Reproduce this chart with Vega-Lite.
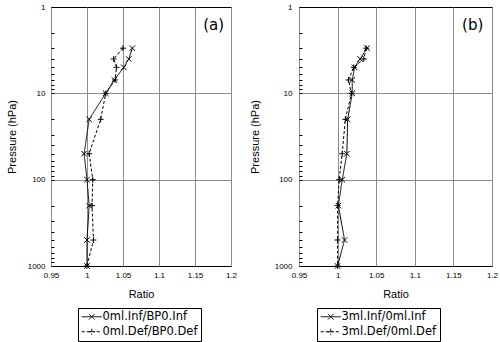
{
  "$schema": "https://vega.github.io/schema/vega-lite/v6.json",
  "padding": {"left": 5, "top": 2, "right": 0, "bottom": 0},
  "background": "white",
  "spacing": 10,
  "config": {
    "font": "Liberation Sans",
    "view": {"stroke": "black", "strokeWidth": 1},
    "axis": {"labelFontSize": 8, "titleFontSize": 11, "titleFontWeight": "normal", "labelColor": "black", "titleColor": "black", "gridColor": "#8c8c8c", "gridWidth": 1, "domain": false, "ticks": false, "labelOverlap": false},
    "axisX": {"labelOverlap": false, "labelSeparation": 0}
  },
  "datasets": {
    "a": [
      {"series": "0ml.Inf/BP0.Inf", "p": 3, "ratio": 1.063},
      {"series": "0ml.Inf/BP0.Inf", "p": 4, "ratio": 1.058},
      {"series": "0ml.Inf/BP0.Inf", "p": 5, "ratio": 1.051},
      {"series": "0ml.Inf/BP0.Inf", "p": 7, "ratio": 1.038},
      {"series": "0ml.Inf/BP0.Inf", "p": 10, "ratio": 1.026},
      {"series": "0ml.Inf/BP0.Inf", "p": 20, "ratio": 1.003},
      {"series": "0ml.Inf/BP0.Inf", "p": 50, "ratio": 0.996},
      {"series": "0ml.Inf/BP0.Inf", "p": 100, "ratio": 1.0},
      {"series": "0ml.Inf/BP0.Inf", "p": 200, "ratio": 1.003},
      {"series": "0ml.Inf/BP0.Inf", "p": 500, "ratio": 1.0},
      {"series": "0ml.Inf/BP0.Inf", "p": 1000, "ratio": 1.0},
      {"series": "0ml.Def/BP0.Def", "p": 3, "ratio": 1.05},
      {"series": "0ml.Def/BP0.Def", "p": 4, "ratio": 1.037},
      {"series": "0ml.Def/BP0.Def", "p": 5, "ratio": 1.041},
      {"series": "0ml.Def/BP0.Def", "p": 7, "ratio": 1.039},
      {"series": "0ml.Def/BP0.Def", "p": 10, "ratio": 1.026},
      {"series": "0ml.Def/BP0.Def", "p": 20, "ratio": 1.019},
      {"series": "0ml.Def/BP0.Def", "p": 50, "ratio": 1.003},
      {"series": "0ml.Def/BP0.Def", "p": 100, "ratio": 1.008},
      {"series": "0ml.Def/BP0.Def", "p": 200, "ratio": 1.007},
      {"series": "0ml.Def/BP0.Def", "p": 500, "ratio": 1.009},
      {"series": "0ml.Def/BP0.Def", "p": 1000, "ratio": 1.0}
    ],
    "b": [
      {"series": "3ml.Inf/0ml.Inf", "p": 3, "ratio": 1.038},
      {"series": "3ml.Inf/0ml.Inf", "p": 4, "ratio": 1.029},
      {"series": "3ml.Inf/0ml.Inf", "p": 5, "ratio": 1.022},
      {"series": "3ml.Inf/0ml.Inf", "p": 7, "ratio": 1.019},
      {"series": "3ml.Inf/0ml.Inf", "p": 10, "ratio": 1.019},
      {"series": "3ml.Inf/0ml.Inf", "p": 20, "ratio": 1.013},
      {"series": "3ml.Inf/0ml.Inf", "p": 50, "ratio": 1.012},
      {"series": "3ml.Inf/0ml.Inf", "p": 100, "ratio": 1.006},
      {"series": "3ml.Inf/0ml.Inf", "p": 200, "ratio": 1.001},
      {"series": "3ml.Inf/0ml.Inf", "p": 500, "ratio": 1.009},
      {"series": "3ml.Inf/0ml.Inf", "p": 1000, "ratio": 1.0},
      {"series": "3ml.Def/0ml.Def", "p": 3, "ratio": 1.037},
      {"series": "3ml.Def/0ml.Def", "p": 4, "ratio": 1.034},
      {"series": "3ml.Def/0ml.Def", "p": 5, "ratio": 1.021},
      {"series": "3ml.Def/0ml.Def", "p": 7, "ratio": 1.014},
      {"series": "3ml.Def/0ml.Def", "p": 10, "ratio": 1.018},
      {"series": "3ml.Def/0ml.Def", "p": 20, "ratio": 1.01},
      {"series": "3ml.Def/0ml.Def", "p": 50, "ratio": 1.006},
      {"series": "3ml.Def/0ml.Def", "p": 100, "ratio": 1.002},
      {"series": "3ml.Def/0ml.Def", "p": 200, "ratio": 1.0},
      {"series": "3ml.Def/0ml.Def", "p": 500, "ratio": 1.0},
      {"series": "3ml.Def/0ml.Def", "p": 1000, "ratio": 1.0}
    ],
    "la": [{"t": "(a)", "x": 1.176, "p": 1.62}],
    "lb": [{"t": "(b)", "x": 1.175, "p": 1.62}]
  },
  "resolve": {"scale": {"x": "independent", "y": "independent", "strokeDash": "independent"}, "legend": {"strokeDash": "independent"}},
  "hconcat": [
    {
      "width": 180,
      "height": 259,
      "encoding": {
        "x": {"field": "ratio", "type": "quantitative", "scale": {"domain": [0.95, 1.2], "nice": false, "zero": false},
              "axis": {"values": [0.95, 1, 1.05, 1.1, 1.15, 1.2], "labelExpr": "format(datum.value, '~g')", "title": "Ratio", "grid": true, "labelPadding": 5, "titlePadding": 9, "labelFlush": false, "labelOverlap": false}},
        "y": {"field": "p", "type": "quantitative", "scale": {"type": "log", "domain": [1, 1000], "reverse": true, "nice": false},
              "axis": {"values": [1,2,3,4,5,6,7,8,9,10,20,30,40,50,60,70,80,90,100,200,300,400,500,600,700,800,900,1000],
                       "labelExpr": "(datum.value == 1 || datum.value == 10 || datum.value == 100 || datum.value == 1000) ? format(datum.value, 'd') : ''",
                       "labelOverlap": false, "labelFlush": false, "title": "Pressure (hPa)", "titlePadding": 10, "labelPadding": 9,
                       "ticks": true, "tickSize": -3, "tickColor": "black",
                       "grid": true, "gridOpacity": {"condition": {"test": "datum.value == 10 || datum.value == 100", "value": 1}, "value": 0}}}
      },
      "layer": [
        {
          "data": {"name": "a"},
          "mark": {"type": "line", "color": "black", "strokeWidth": 1},
          "encoding": {
            "strokeDash": {"field": "series", "type": "nominal", "scale": {"domain": ["0ml.Inf/BP0.Inf", "0ml.Def/BP0.Def"], "range": [[1, 0], [3, 2]]},
                           "legend": {"orient": "none", "legendX": 27, "legendY": 301, "title": null, "direction": "vertical", "strokeColor": "black", "padding": 3,
                                      "symbolType": "M-2,0L2,0", "symbolSize": 100, "symbolOffset": 5, "symbolStrokeWidth": 1, "symbolStrokeColor": "black", "symbolFillColor": "transparent",
                                      "labelFontSize": 11.5, "labelFont": "DejaVu Sans", "labelColor": "black", "labelOffset": 5, "rowPadding": 2,
                                      "encode": {"symbols": {"update": {"shape": {"signal": "indexof(datum.value, 'Inf') >= 0 ? 'M-2,0L2,0M-0.56,-0.56L0.56,0.56M-0.56,0.56L0.56,-0.56' : 'M-2,0L2,0M-0.6,0L0.6,0M0,-0.6L0,0.6'"}}}}}},
            "order": {"field": "p", "type": "quantitative"}
          }
        },
        {
          "data": {"name": "a"},
          "transform": [{"filter": "datum.series == '0ml.Inf/BP0.Inf'"}],
          "mark": {"type": "point", "filled": false, "color": "black", "size": 30, "strokeWidth": 1, "opacity": 1, "shape": "M-1,-1L1,1M-1,1L1,-1"}
        },
        {
          "data": {"name": "a"},
          "transform": [{"filter": "datum.series == '0ml.Def/BP0.Def'"}],
          "mark": {"type": "point", "filled": false, "color": "black", "size": 34, "strokeWidth": 1, "opacity": 1, "shape": "M-1,0L1,0M0,-1L0,1"}
        },
        {
          "data": {"name": "la"},
          "mark": {"type": "text", "fontSize": 15, "font": "DejaVu Sans", "color": "black"},
          "encoding": {
            "x": {"field": "x", "type": "quantitative"},
            "text": {"field": "t"}
          }
        }
      ]
    },
    {
      "width": 193,
      "height": 259,
      "encoding": {
        "x": {"field": "ratio", "type": "quantitative", "scale": {"domain": [0.95, 1.2], "nice": false, "zero": false},
              "axis": {"values": [0.95, 1, 1.05, 1.1, 1.15, 1.2], "labelExpr": "format(datum.value, '~g')", "title": "Ratio", "grid": true, "labelPadding": 5, "titlePadding": 9, "labelFlush": false, "labelOverlap": false}},
        "y": {"field": "p", "type": "quantitative", "scale": {"type": "log", "domain": [1, 1000], "reverse": true, "nice": false},
              "axis": {"values": [1,2,3,4,5,6,7,8,9,10,20,30,40,50,60,70,80,90,100,200,300,400,500,600,700,800,900,1000],
                       "labelExpr": "(datum.value == 1 || datum.value == 10 || datum.value == 100 || datum.value == 1000) ? format(datum.value, 'd') : ''",
                       "labelOverlap": false, "labelFlush": false, "title": "Pressure (hPa)", "titlePadding": 14, "labelPadding": 10,
                       "ticks": true, "tickSize": -3, "tickColor": "black",
                       "grid": true, "gridOpacity": {"condition": {"test": "datum.value == 10 || datum.value == 100", "value": 1}, "value": 0}}}
      },
      "layer": [
        {
          "data": {"name": "b"},
          "mark": {"type": "line", "color": "black", "strokeWidth": 1},
          "encoding": {
            "strokeDash": {"field": "series", "type": "nominal", "scale": {"domain": ["3ml.Inf/0ml.Inf", "3ml.Def/0ml.Def"], "range": [[1, 0], [3, 2]]},
                           "legend": {"orient": "none", "legendX": 18, "legendY": 301, "title": null, "direction": "vertical", "strokeColor": "black", "padding": 3,
                                      "symbolType": "M-2,0L2,0", "symbolSize": 100, "symbolOffset": 5, "symbolStrokeWidth": 1, "symbolStrokeColor": "black", "symbolFillColor": "transparent",
                                      "labelFontSize": 11.5, "labelFont": "DejaVu Sans", "labelColor": "black", "labelOffset": 5, "rowPadding": 2,
                                      "encode": {"symbols": {"update": {"shape": {"signal": "indexof(datum.value, 'Inf') >= 0 ? 'M-2,0L2,0M-0.56,-0.56L0.56,0.56M-0.56,0.56L0.56,-0.56' : 'M-2,0L2,0M-0.6,0L0.6,0M0,-0.6L0,0.6'"}}}}}},
            "order": {"field": "p", "type": "quantitative"}
          }
        },
        {
          "data": {"name": "b"},
          "transform": [{"filter": "datum.series == '3ml.Inf/0ml.Inf'"}],
          "mark": {"type": "point", "filled": false, "color": "black", "size": 30, "strokeWidth": 1, "opacity": 1, "shape": "M-1,-1L1,1M-1,1L1,-1"}
        },
        {
          "data": {"name": "b"},
          "transform": [{"filter": "datum.series == '3ml.Def/0ml.Def'"}],
          "mark": {"type": "point", "filled": false, "color": "black", "size": 34, "strokeWidth": 1, "opacity": 1, "shape": "M-1,0L1,0M0,-1L0,1"}
        },
        {
          "data": {"name": "lb"},
          "mark": {"type": "text", "fontSize": 15, "font": "DejaVu Sans", "color": "black"},
          "encoding": {
            "x": {"field": "x", "type": "quantitative"},
            "text": {"field": "t"}
          }
        }
      ]
    }
  ]
}
